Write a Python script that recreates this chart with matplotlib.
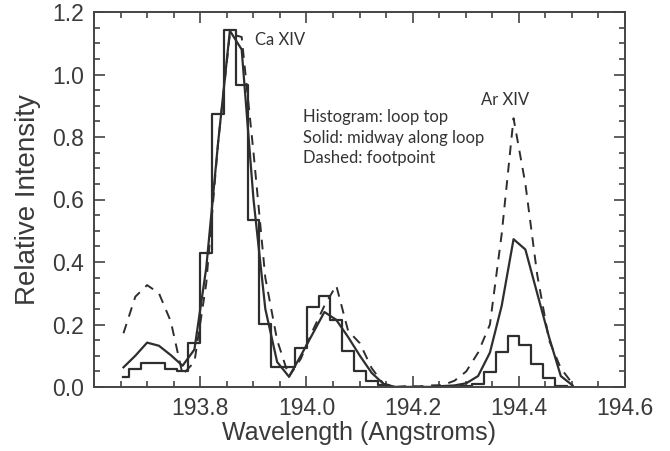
import matplotlib
matplotlib.use("Agg")
import matplotlib.pyplot as plt
from matplotlib.ticker import MultipleLocator

# ---------------- data ----------------
wavelength = [193.6555, 193.6778, 193.7000, 193.7223, 193.7446, 193.7668, 193.7891,
              193.8113, 193.8336, 193.8559, 193.8781, 193.9004, 193.9226, 193.9449,
              193.9672, 193.9894, 194.0117, 194.0339, 194.0562, 194.0785, 194.1007,
              194.1230, 194.1452, 194.1675, 194.1898, 194.2120, 194.2343, 194.2565,
              194.2788, 194.3011, 194.3233, 194.3456, 194.3678, 194.3901, 194.4124,
              194.4346, 194.4569, 194.4791, 194.5014]

loop_top = [0.033, 0.057, 0.077, 0.077, 0.057, 0.052, 0.142, 0.428, 0.873, 1.142,
            0.965, 0.534, 0.203, 0.063, 0.063, 0.126, 0.255, 0.291, 0.215, 0.116,
            0.052, 0.018, 0.005, 0.0, 0.0, 0.0, 0.0, 0.0, 0.0, 0.003,
            0.010, 0.048, 0.111, 0.164, 0.136, 0.075, 0.030, 0.003, 0.0]

midway = [0.063, 0.100, 0.142, 0.132, 0.102, 0.068, 0.120, 0.380, 0.780, 1.140,
          1.080, 0.600, 0.250, 0.080, 0.033, 0.100, 0.170, 0.240, 0.215, 0.160,
          0.100, 0.045, 0.010, 0.0, 0.0, 0.0, 0.0, 0.003, 0.005, 0.012,
          0.035, 0.110, 0.260, 0.473, 0.440, 0.300, 0.160, 0.035, 0.005]

footpoint = [0.172, 0.289, 0.326, 0.300, 0.210, 0.040, 0.080, 0.330, 0.780, 1.130,
             1.120, 0.750, 0.350, 0.150, 0.033, 0.090, 0.180, 0.260, 0.325, 0.180,
             0.140, 0.060, 0.010, 0.0, 0.003, 0.002, 0.005, 0.006, 0.020, 0.050,
             0.110, 0.200, 0.490, 0.860, 0.650, 0.360, 0.150, 0.060, 0.010]

x_tick_labels = ["193.8", "194.0", "194.2", "194.4", "194.6"]
x_tick_values = [193.8, 194.0, 194.2, 194.4, 194.6]
y_tick_values = [0.0, 0.2, 0.4, 0.6, 0.8, 1.0, 1.2]

# ---------------- figure ----------------
W, H = 670, 451
fig = plt.figure(figsize=(W / 100, H / 100), dpi=100)
L, R, T, B = 94, 625, 12, 387
ax = fig.add_axes([L / W, (H - B) / H, (R - L) / W, (B - T) / H])

lc = "#2e2e2e"
ax.step(wavelength, loop_top, where="mid", color=lc, lw=1.6)
ax.plot(wavelength, midway, color=lc, lw=1.6)
ax.plot(wavelength, footpoint, color=lc, lw=1.4, dashes=(5, 4))

ax.set_xlim(193.6, 194.6)
ax.set_ylim(0.0, 1.2)

ax.set_xticks(x_tick_values)
ax.set_xticklabels(x_tick_labels)
ax.set_yticks(y_tick_values)
ax.set_yticklabels([f"{v:.1f}" for v in y_tick_values])
ax.xaxis.set_minor_locator(MultipleLocator(0.05))
ax.yaxis.set_minor_locator(MultipleLocator(0.05))

for lab in ax.get_xticklabels() + ax.get_yticklabels():
    lab.set_fontfamily("Liberation Sans")
    lab.set_fontsize(16.5)
    lab.set_color("#3a3a3a")

ax.tick_params(which="both", direction="in", top=True, right=True,
               color="#444444", width=1.2)
ax.tick_params(axis="x", which="major", length=8, pad=7)
ax.tick_params(axis="y", which="major", length=8, pad=7)
ax.tick_params(which="minor", length=4)
for s in ax.spines.values():
    s.set_color("#444444")
    s.set_linewidth(1.4)

ax.set_xlabel("Wavelength (Angstroms)", family="Liberation Sans", fontsize=18,
              color="#3a3a3a", labelpad=1)
ax.set_ylabel("Relative Intensity", family="Liberation Sans", fontsize=20,
              color="#3a3a3a", labelpad=8)

ann = dict(family="Lato", fontsize=12, color="#333333", ha="left", va="baseline")
ax.text(193.904, 1.094, "Ca XIV", **ann)
ax.text(194.328, 0.902, "Ar XIV", **ann)
ax.text(193.994, 0.848, "Histogram: loop top", **ann)
ax.text(193.994, 0.782, "Solid: midway along loop", **ann)
ax.text(193.994, 0.717, "Dashed: footpoint", **ann)

fig.savefig("out.png", dpi=100)
